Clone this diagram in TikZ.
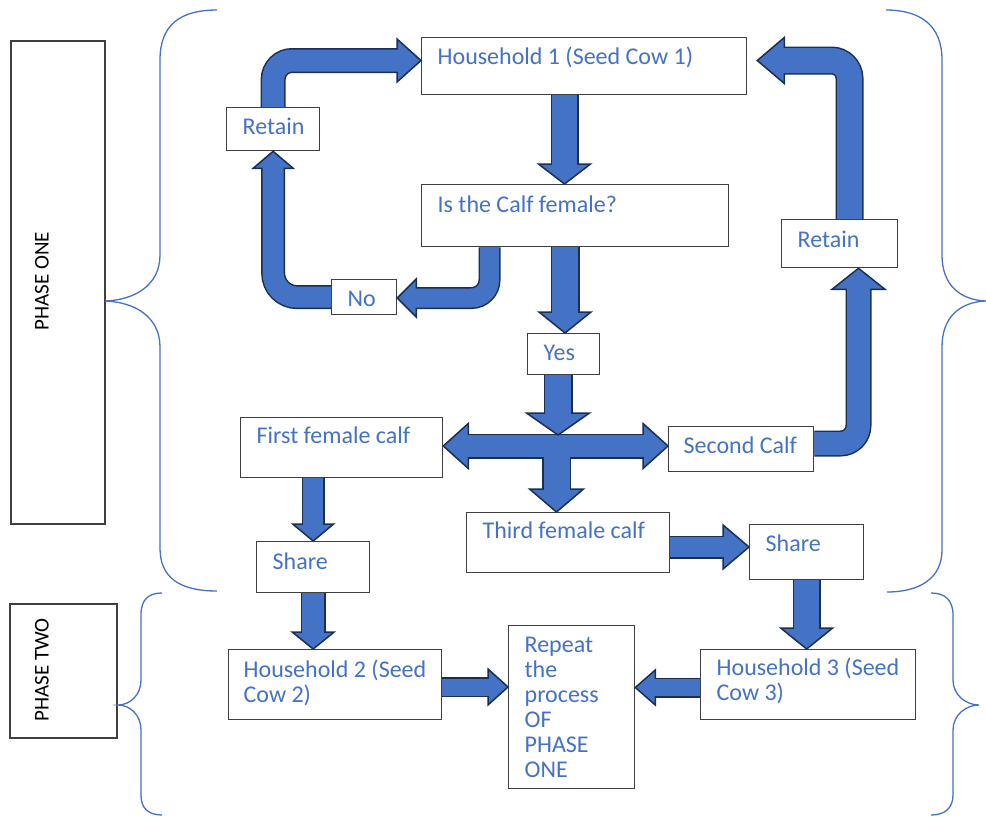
\documentclass[tikz,border=0pt]{standalone}
\usepackage{fontspec}
\setmainfont{Carlito}
\usetikzlibrary{calc}
\hyphenpenalty=10000
\definecolor{arrowblue}{HTML}{4472C4}
\definecolor{arrowdark}{HTML}{1B2F55}
\definecolor{textblue}{HTML}{4472C4}
\definecolor{boxgray}{HTML}{3F3F3F}
\newcommand{\boxfont}{\fontsize{24}{25}\selectfont}
\newcommand{\phasefont}{\fontsize{21}{22}\selectfont}
\tikzset{%
    box/.style={draw=boxgray, line width=1.3pt, fill=white, text=textblue, inner xsep=16pt, inner ysep=0pt, anchor=north west,
        execute at begin node={\spaceskip=5.4pt\xspaceskip=5.4pt\relax}},
    phase/.style={draw=boxgray, line width=1.5pt, anchor=north west, inner sep=0pt},
    brace/.style={draw=arrowblue, line width=1.3pt},
    arrowline/.style={draw=arrowdark},
    arrowfill/.style={draw=arrowblue},
    arrowhead/.style={fill=arrowblue, draw=arrowdark, line width=1.5pt, line join=miter}
}
% #1 shaft width, #2 half width of head, #3 shaft path, #4 tip, #5 tip to base
\newcommand{\blockarrow}[5]{%
    \coordinate (headtip) at (#4);
    \coordinate (headbase) at ($(headtip)+#5$);
    \draw[arrowline, line width=#1pt+3pt] #3 (headbase);
    \filldraw[arrowhead] ($(headbase)!#2pt!90:(headtip)$) -- (headtip) -- ($(headbase)!#2pt!-90:(headtip)$) -- cycle;
    \draw[arrowfill, line width=#1pt] #3 ($(headbase)!2pt!(headtip)$);
}

\begin{document}
\begin{tikzpicture}[x=1pt, y=-1pt]
		\tikzstyle{every node}=[font=\boxfont]
		\useasboundingbox (0,0) rectangle (986,817);

		% phases
		\node[phase, minimum width=94pt, minimum height=483pt]  (one)     at (10,40)  {};
		\node[rotate=90, font=\phasefont]                       (onetext) at (42,281) {PHASE ONE};
		\node[phase, minimum width=107pt, minimum height=134pt] (two)     at (9,603)  {};
		\node[rotate=90, font=\phasefont]                       (twotext) at (42,670) {PHASE TWO};

		\draw[brace] (217,10) .. controls (180,10) and (160,25) .. (160,60) -- (160,255)
			.. controls (160,285) and (135,300) .. (105,301) .. controls (135,302) and (160,317) .. (160,347)
			-- (160,548) .. controls (160,578) and (180,591) .. (217,591);
		\draw[brace] (886,10) .. controls (920,10) and (942,25) .. (942,60) -- (942,255)
			.. controls (942,285) and (960,300) .. (986,301) .. controls (960,302) and (942,317) .. (942,347)
			-- (942,550) .. controls (942,578) and (920,592) .. (887,592);
		\draw[brace] (162,593) .. controls (148,593) and (141,600) .. (141,615) -- (141,680)
			.. controls (141,695) and (130,705) .. (118,705) .. controls (130,705) and (141,715) .. (141,730)
			-- (141,795) .. controls (141,808) and (148,815) .. (162,815);
		\draw[brace] (931,593) .. controls (945,593) and (953,600) .. (953,615) -- (953,680)
			.. controls (953,695) and (966,705) .. (979,705) .. controls (966,705) and (953,715) .. (953,730)
			-- (953,795) .. controls (953,808) and (945,815) .. (931,815);

		% boxes
		\node[box, text width=293pt, text height=27pt, text depth=30pt] (hh1)    at (421,37)  {Household 1 (Seed Cow 1)};
		\node[box, text width=275pt, text height=28pt, text depth=34pt] (calf)   at (421,184) {Is the Calf female?};
		\node[box, text width=61pt,  text height=27pt, text depth=16pt] (retL)   at (226,107) {Retain};
		\node[box, text width=33pt,  text height=27pt, text depth=8pt]  (no)     at (331,279) {No};
		\node[box, text width=84pt,  text height=28pt, text depth=20pt] (retR)   at (781,219) {Retain};
		\node[box, text width=40pt,  text height=27pt, text depth=14pt] (yes)    at (527,333) {Yes};
		\node[box, text width=170pt, text height=26pt, text depth=34pt] (first)  at (240,417) {First female calf};
		\node[box, inner xsep=15pt, text width=115pt, text height=27pt, text depth=18pt] (second) at (668,426) {Second~Calf};
		\node[box, text width=171pt, text height=26pt, text depth=34pt] (third)  at (466,512) {Third female calf};
		\node[box, text width=81pt,  text height=28pt, text depth=23pt] (shareL) at (256,541) {Share};
		\node[box, text width=82pt,  text height=27pt, text depth=28pt] (shareR) at (749,524) {Share};
		\node[box, inner xsep=15pt, text width=183pt, text height=28pt, text depth=42pt] (hh2) at (228,649) {Household~2~(Seed\\Cow~2)};
		\node[box, text width=183pt, text height=26pt, text depth=44pt] (hh3)    at (700,649) {Household~3~(Seed\\Cow~3)};
		\node[box, text width=94pt,  text height=27pt, text depth=136pt] (rep)   at (508,625) {Repeat\\the\\process\\OF\\PHASE\\ONE};

		% arrows of phase one
		\blockarrow{25}{26}{(hh1.south -| headtip) --}{calf.north -| 564.5,0}{(0,-20)}
		\blockarrow{26}{26}{(calf.south -| headtip) --}{yes.north -| 565,0}{(0,-21)}
		\blockarrow{19}{19}{(calf.south -| 489.5,0) [rounded corners=18pt] |-}{no.east |- 0,298}{(19,0)}
		\blockarrow{21}{20}{(no.west) [rounded corners=24pt] -|}{retL.south}{(0,17)}
		\blockarrow{22}{21.5}{(retL.north) [rounded corners=19pt] |-}{hh1.west |- 0,60.5}{(-24,0)}
		\blockarrow{23}{26.5}{(second.east |- 0,443.5) [rounded corners=18pt] -|}{retR.south -| 858.5,0}{(0,21)}
		\coordinate (hh1gap) at ([xshift=10pt]hh1.east);
		\blockarrow{25}{23}{(retR.north -| 849.5,0) [rounded corners=18pt] |-}{hh1gap |- 0,60.5}{(27,0)}

		% cross below Yes
		\coordinate (hub) at (556.5,446);
		\coordinate (ltip) at (first.east |- hub);
		\coordinate (rtip) at (second.west |- hub);
		\coordinate (lbase) at ($(ltip)+(25,0)$);
		\coordinate (rbase) at ($(rtip)+(-25,0)$);
		\draw[arrowline, line width=25pt] (lbase) -- (rbase);
		\blockarrow{26}{27}{(hub) --}{third.north -| hub}{(0,-23)}
		\foreach \t/\b in {ltip/lbase, rtip/rbase}
			\filldraw[arrowhead] ($(\b)!22.5pt!90:(\t)$) -- (\t) -- ($(\b)!22.5pt!-90:(\t)$) -- cycle;
		\draw[arrowfill, line width=22pt] ($(lbase)!2pt!(ltip)$) -- ($(rbase)!2pt!(rtip)$);
		\blockarrow{26}{31.5}{(yes.south -| headtip) --}{$(hub)+(1.5,-11)$}{(0,-22)}

		% sharing
		\blockarrow{20}{20.5}{(first.south -| headtip) --}{shareL.north}{(0,-17)}
		\blockarrow{20}{22}{(third.east |- headtip) --}{shareR.west |- 0,547}{(-26,0)}

		% arrows of phase two
		\blockarrow{22}{21}{(shareL.south) --}{hh2.north -| shareL.south}{(0,-17)}
		\blockarrow{25}{26}{(shareR.south) --}{hh3.north -| shareR.south}{(0,-21)}
		\blockarrow{17}{18}{(hh2.east |- headtip) --}{rep.west |- 0,687}{(-20,0)}
		\blockarrow{17}{17.5}{(hh3.west |- headtip) --}{rep.east |- 0,687.5}{(20,0)}
	\end{tikzpicture}
\end{document}
